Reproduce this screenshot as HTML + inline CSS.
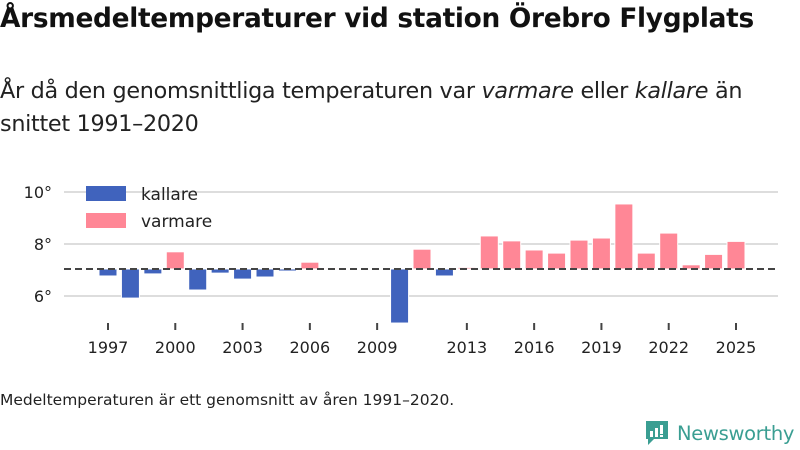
<!DOCTYPE html>
<html><head><meta charset="utf-8"><style>
body{margin:0;width:800px;height:450px;background:#fff;font-family:"Liberation Sans","DejaVu Sans",sans-serif;overflow:hidden;position:relative}
.t{position:absolute;left:0;margin:0;white-space:nowrap}
</style></head><body>
<div class="t" style="top:3px;font-size:26.4px;font-weight:bold;color:#111;font-family:'DejaVu Sans',sans-serif;letter-spacing:-0.3px">Årsmedeltemperaturer vid station Örebro Flygplats</div>
<div class="t" style="top:75px;font-size:22.3px;line-height:33px;color:#222;font-family:'DejaVu Sans',sans-serif;letter-spacing:-0.3px">År då den genomsnittliga temperaturen var <i>varmare</i> eller <i>kallare</i> än<br>snittet 1991–2020</div>
<svg id="c" width="800" height="450" style="position:absolute;left:0;top:0"></svg>
<div class="t" style="top:391px;font-size:15.5px;color:#222;font-family:'DejaVu Sans',sans-serif;letter-spacing:0px">Medeltemperaturen är ett genomsnitt av åren 1991–2020.</div>
<div style="position:absolute;left:645px;top:420px;display:flex;align-items:center">
<svg width="24" height="26"><path d="M1 1h22v18h-14l-6 6v-6h-2z" fill="#3a9e92"/><rect x="5" y="11" width="3" height="6" fill="#fff"/><rect x="10" y="8" width="3" height="9" fill="#fff"/><rect x="15" y="5" width="3" height="9" fill="#fff"/><rect x="15" y="15" width="3" height="2" fill="#fff"/></svg>
<span style="color:#3a9e92;font-size:19.5px;margin-left:8px;font-family:'DejaVu Sans',sans-serif;letter-spacing:-0.3px">Newsworthy</span></div>
<script>
const years=[1997,1998,1999,2000,2001,2002,2003,2004,2005,2006,2007,2010,2011,2012,2013,2014,2015,2016,2017,2018,2019,2020,2021,2022,2023,2024,2025];
const temps=[6.77,5.92,6.85,7.7,6.23,6.88,6.65,6.73,6.96,7.3,7.08,4.96,7.8,6.77,7.1,8.31,8.12,7.77,7.65,8.15,8.23,9.54,7.65,8.42,7.2,7.6,8.1];
const mean=7.04;
const yTicks=[6,8,10];
const xTicks=[1997,2000,2003,2006,2009,2013,2016,2019,2022,2025];
const svg=document.getElementById('c');const NS='http://www.w3.org/2000/svg';
const x=v=>108+(v-1997)*(628/28);
const y=v=>296-(v-6)*26;
function mk(t,a){const e=document.createElementNS(NS,t);for(const k in a)e.setAttribute(k,a[k]);svg.appendChild(e);return e;}
yTicks.forEach(t=>{
const g=mk('line',{x1:64,x2:778,y1:y(t),y2:y(t),stroke:'#ddd','stroke-width':2});


const l=mk('text',{x:52,y:y(t)+6,'text-anchor':'end','font-size':16,fill:'#222','font-family':'DejaVu Sans'});l.textContent=t+'°';


});
years.forEach((yr,i)=>{
const v=temps[i];const top=Math.min(y(v),y(mean)),h=Math.abs(y(v)-y(mean));
const b=mk('rect',{x:x(yr)-9,y:top,width:18,height:Math.max(h,1),fill:v<mean?'#4063bd':'#ff8796',stroke:'#fff','stroke-width':1});


});
const m=mk('line',{x1:64,x2:778,y1:y(mean),y2:y(mean),stroke:'#444','stroke-width':2,'stroke-dasharray':'7,4'});


xTicks.forEach(t=>{
const k=mk('line',{x1:x(t),x2:x(t),y1:323,y2:330,stroke:'#444','stroke-width':2});


const l=mk('text',{x:x(t),y:353,'text-anchor':'middle','font-size':16,fill:'#222','font-family':'DejaVu Sans'});l.textContent=t;


});
[['kallare','#4063bd',186],['varmare','#ff8796',213]].forEach(([n,c,yy])=>{
const r=mk('rect',{x:86,y:yy,width:40,height:15,fill:c});


const t=mk('text',{x:141,y:yy+14,'font-size':17,fill:'#222','font-family':'DejaVu Sans'});t.textContent=n;


});
</script>
</body></html>
